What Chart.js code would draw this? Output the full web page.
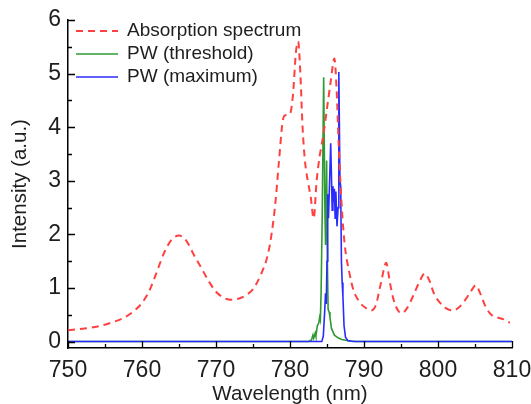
<!DOCTYPE html>
<html>
<head>
<meta charset="utf-8">
<script src="https://cdn.jsdelivr.net/npm/chart.js@4.4.1/dist/chart.umd.min.js"></script>
<style>
  html, body { margin: 0; padding: 0; background: #ffffff; }
  #wrap { width: 531px; height: 404px; }
</style>
</head>
<body>
<div id="wrap"><canvas id="c" width="531" height="404"></canvas></div>
<script>
// ---- data ----
const seriesLabels = ['Absorption spectrum', 'PW (threshold)', 'PW (maximum)'];

const absWavelength = [750, 752, 754, 756, 757.5, 759, 760, 761, 762, 763, 764, 765, 766, 767, 768, 769, 770, 771, 772, 773, 774, 775, 776, 777, 777.5, 778, 778.5, 779, 779.3, 780, 780.4, 780.8, 781.1, 781.4, 781.7, 782, 782.4, 782.8, 783.2, 783.6, 784, 784.5, 785, 785.5, 786, 786.3, 786.6, 787, 787.4, 788, 788.6, 789.4, 790.2, 791, 791.6, 792.3, 793, 793.5, 794, 794.6, 795.1, 795.8, 796.8, 797.6, 798.2, 798.8, 799.5, 800.3, 801, 802, 803, 803.8, 804.5, 805.1, 805.7, 806.4, 807.2, 808, 808.8, 809.7];
const absorption = [0.21, 0.24, 0.28, 0.36, 0.44, 0.58, 0.72, 0.95, 1.3, 1.66, 1.9, 1.98, 1.88, 1.62, 1.38, 1.13, 0.93, 0.82, 0.78, 0.8, 0.86, 0.98, 1.23, 1.62, 2.0, 2.55, 3.35, 4.1, 4.22, 4.25, 4.6, 5.4, 5.6, 5.0, 4.0, 3.4, 3.0, 2.7, 2.3, 3.0, 3.45, 3.85, 4.35, 4.85, 5.28, 4.7, 3.6, 2.5, 1.8, 1.3, 0.95, 0.74, 0.63, 0.58, 0.68, 1.1, 1.47, 1.1, 0.78, 0.58, 0.53, 0.62, 0.9, 1.15, 1.27, 1.15, 0.88, 0.72, 0.63, 0.58, 0.66, 0.8, 0.95, 1.05, 0.9, 0.66, 0.5, 0.45, 0.42, 0.35];

const thrWavelength = [750, 782.5, 782.9, 783.1, 783.2, 783.4, 783.5, 783.7, 783.9, 784.0, 784.1, 784.2, 784.35, 784.55, 784.7, 784.8, 784.95, 785.05, 785.15, 785.3, 785.4, 785.6, 786, 786.5, 787, 788, 789, 810];
const thresholdPW = [0, 0, 0.03, 0.12, 0.06, 0.16, 0.1, 0.3, 0.35, 0.45, 0.4, 0.9, 2.3, 4.93, 2.6, 1.8, 3.38, 1.5, 0.6, 0.55, 0.45, 0.25, 0.12, 0.07, 0.04, 0.01, 0, 0];

const maxWavelength = [750, 784.3, 784.5, 784.7, 784.8, 784.9, 785.0, 785.1, 785.2, 785.35, 785.5, 785.6, 785.7, 785.8, 785.9, 786.0, 786.1, 786.2, 786.35, 786.5, 786.6, 786.75, 786.85, 786.95, 787.05, 787.15, 787.3, 787.5, 787.8, 788.5, 810];
const maximumPW = [0, 0, 0.1, 0.6, 0.9, 0.7, 1.5, 2.75, 2.3, 3.0, 3.7, 3.1, 2.45, 2.9, 2.6, 2.85, 2.3, 2.8, 2.15, 2.5, 5.03, 3.0, 2.9, 1.5, 1.1, 0.85, 0.3, 0.08, 0.02, 0, 0];

const xTickValues = [750, 760, 770, 780, 790, 800, 810];
const yTickValues = [0, 1, 2, 3, 4, 5, 6];

// ---- helpers ----
const pts = (xs, ys) => xs.map((x, i) => ({ x: x, y: ys[i] }));
const FONT = '"Liberation Sans", Arial, Helvetica, sans-serif';
const NARROW = '"Liberation Sans Narrow", "Arial Narrow", "Liberation Sans", Arial, sans-serif';
const TEXT = '#1e1e1e';

// inward ticks (major + minor) drawn from the scales
const inwardTicks = {
  id: 'inwardTicks',
  afterDraw(chart) {
    const ctx = chart.ctx, a = chart.chartArea;
    const xs = chart.scales.x, ys = chart.scales.y;
    ctx.save();
    ctx.strokeStyle = '#000';
    ctx.lineWidth = 1.3;
    ctx.beginPath();
    for (let v = xs.min; v <= xs.max + 1e-9; v += 5) {
      const px = Math.round(xs.getPixelForValue(v)) + 0.5;
      const len = (v % 10 === 0) ? 7 : 4;
      ctx.moveTo(px, a.bottom);
      ctx.lineTo(px, a.bottom - len);
    }
    for (let v = 0; v <= 6 + 1e-9; v += 0.5) {
      const py = Math.round(ys.getPixelForValue(v)) + 0.5;
      const len = (Math.abs(v - Math.round(v)) < 1e-9) ? 7 : 4;
      ctx.moveTo(a.left, py);
      ctx.lineTo(a.left + len, py);
    }
    ctx.stroke();
    ctx.restore();
  }
};

// legend drawn inside the plot area from the datasets
const innerLegend = {
  id: 'innerLegend',
  afterDatasetsDraw(chart) {
    const ctx = chart.ctx;
    const x0 = 76, x1 = 118, tx = 127, y0 = 31, dy = 23;
    ctx.save();
    chart.data.datasets.forEach((ds, i) => {
      const y = y0 + i * dy;
      ctx.strokeStyle = ds.borderColor;
      ctx.lineWidth = ds.borderWidth;
      ctx.setLineDash(ds.borderDash || []);
      ctx.beginPath();
      ctx.moveTo(x0, y);
      ctx.lineTo(x1, y);
      ctx.stroke();
      ctx.setLineDash([]);
      ctx.fillStyle = TEXT;
      ctx.font = '19px ' + FONT;
      ctx.textBaseline = 'middle';
      ctx.textAlign = 'left';
      ctx.fillText(ds.label, tx, y);
    });
    ctx.restore();
  }
};

new Chart(document.getElementById('c'), {
  type: 'line',
  data: {
    datasets: [
      {
        label: seriesLabels[0],
        data: pts(absWavelength, absorption),
        borderColor: '#ff4040',
        borderWidth: 2,
        borderDash: [7, 5],
        cubicInterpolationMode: 'monotone',
        pointRadius: 0,
        fill: false,
        order: 0
      },
      {
        label: seriesLabels[1],
        data: pts(thrWavelength, thresholdPW),
        borderColor: '#2f9a34',
        borderWidth: 1.6,
        tension: 0,
        pointRadius: 0,
        fill: false,
        order: 2
      },
      {
        label: seriesLabels[2],
        data: pts(maxWavelength, maximumPW),
        borderColor: '#2b2bff',
        borderWidth: 1.6,
        tension: 0,
        pointRadius: 0,
        fill: false,
        order: 1
      }
    ]
  },
  options: {
    responsive: false,
    animation: false,
    devicePixelRatio: 1,
    layout: { padding: { left: 0, top: 20, right: 19, bottom: 0 } },
    plugins: { legend: { display: false }, tooltip: { enabled: false } },
    scales: {
      x: {
        type: 'linear',
        min: 750, max: 810,
        afterBuildTicks: (s) => { s.ticks = xTickValues.map(v => ({ value: v })); },
        afterFit: (s) => { s.height = 56; s.paddingLeft = 0; s.paddingRight = 0; },
        grid: { display: false, drawOnChartArea: false, drawTicks: false },
        border: { display: true, color: '#000', width: 1.5 },
        ticks: { color: TEXT, font: { family: NARROW, size: 23 }, padding: 9, maxRotation: 0, autoSkip: false },
        title: { display: true, text: 'Wavelength (nm)', color: TEXT, font: { family: FONT, size: 20.5 }, padding: { top: 0, bottom: -3 } }
      },
      y: {
        type: 'linear',
        min: -0.12, max: 6,
        afterBuildTicks: (s) => { s.ticks = yTickValues.map(v => ({ value: v })); },
        afterFit: (s) => { s.width = 68; s.paddingTop = 0; s.paddingBottom = 0; },
        grid: { display: false, drawOnChartArea: false, drawTicks: false },
        border: { display: true, color: '#000', width: 1.5 },
        ticks: { color: TEXT, font: { family: NARROW, size: 23 }, padding: 7 },
        title: { display: true, text: 'Intensity (a.u.)', color: TEXT, font: { family: FONT, size: 20.5 }, padding: { top: 8, bottom: 0 } }
      }
    }
  },
  plugins: [inwardTicks, innerLegend]
});
</script>
</body>
</html>
